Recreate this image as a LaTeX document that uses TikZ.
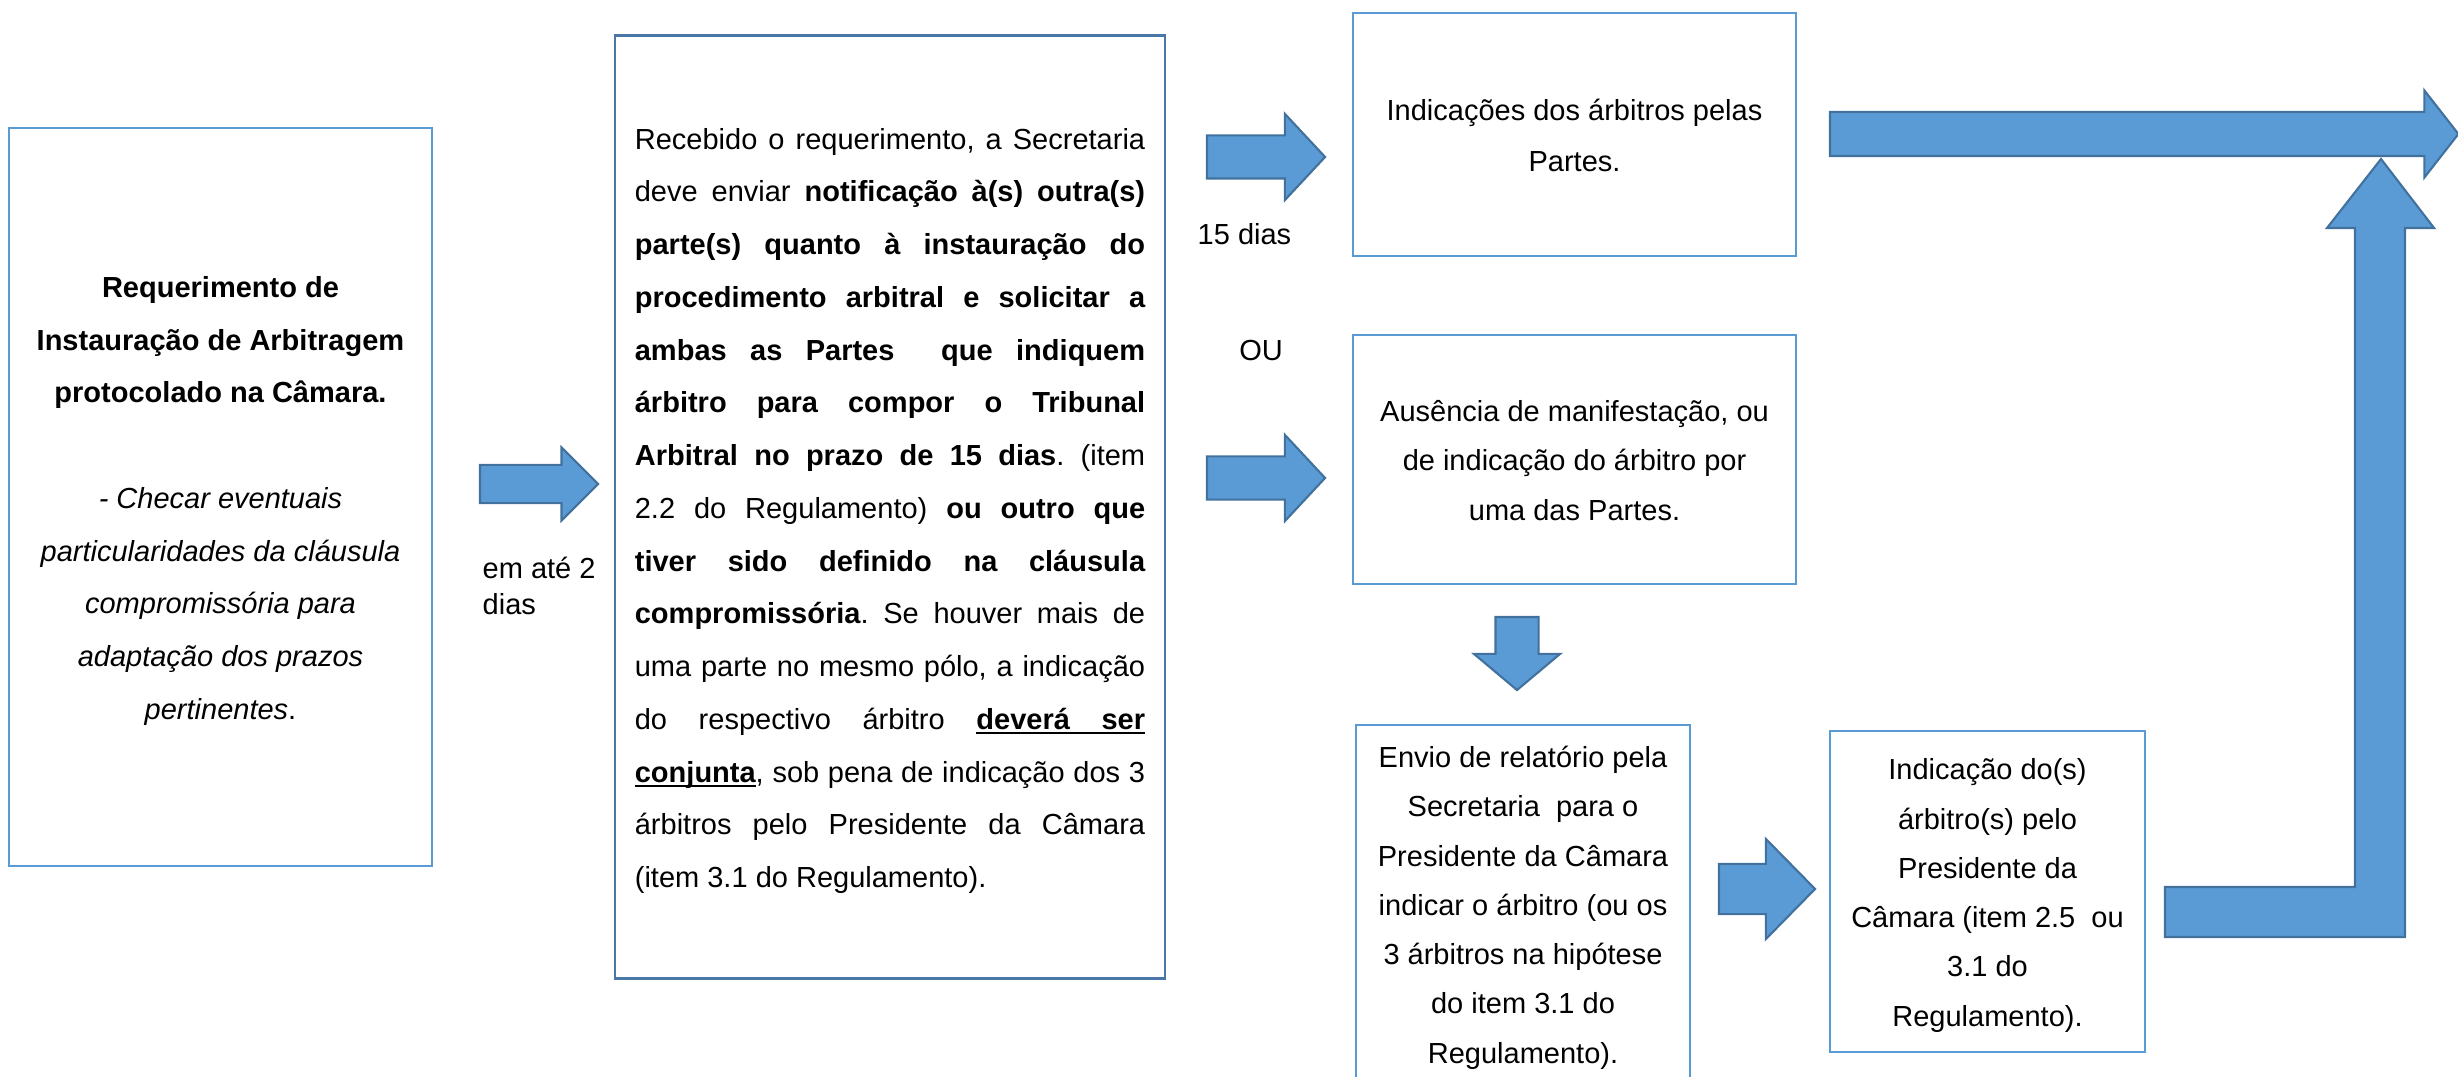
\documentclass[tikz,border=0pt]{standalone}
\usepackage{fontspec}
\setmainfont{Liberation Sans}
\usepackage{tikz}
\usetikzlibrary{shapes.arrows}
\definecolor{boxline}{HTML}{5B9BD5}
\definecolor{boxdark}{HTML}{4A77A8}
\definecolor{arrowfill}{HTML}{5B9BD5}
\definecolor{arrowline}{HTML}{41719C}
% underline that follows the justified spaces
\newsavebox{\ulsave}
\newcommand{\ulword}[1]{\sbox{\ulsave}{#1}\rlap{\vrule height -0.8pt depth 1.4pt width \wd\ulsave}\usebox{\ulsave}}
\newcommand{\ulspace}{\leaders\vrule height -0.8pt depth 1.4pt\hskip\fontdimen2\font plus\fontdimen3\font minus\fontdimen4\font}
% struts to seat the text a bit lower in its box
\newcommand{\topstrut}{\rule{0pt}{9.1pt}}
\newcommand{\botstrut}{\rule[-2.6pt]{0pt}{0pt}}
\frenchspacing

\begin{document}
\begin{tikzpicture}[x=0.01cm,y=-0.01cm,
box/.style={draw=boxline,line width=0.7pt,inner sep=0,align=center,
  font=\fontsize{8.25}{14}\selectfont},
blockarrow/.style={fill=arrowfill,draw=arrowline,line width=0.6pt},
harrow/.style={blockarrow,single arrow,inner xsep=0,outer sep=0,anchor=tail},
lbl/.style={inner sep=0,font=\fontsize{8.25}{10}\selectfont}]
\useasboundingbox (0,0) rectangle (2458,1077);
\clip (0,0) rectangle (2458,1077);
% boxes
\node[box,minimum width=4.23cm,minimum height=7.38cm,
  font=\fontsize{8.25}{15}\selectfont] (req) at (220.5,497)
  {\topstrut\textbf{Requerimento de}\\\textbf{Instauração de Arbitragem}\\
   \textbf{protocolado na Câmara.}\\[15pt]
   \textit{- Checar eventuais}\\\textit{particularidades da cláusula}\\
   \textit{compromissória para}\\\textit{adaptação dos prazos}\\
   \textit{pertinentes}.\botstrut};
\node[box,draw=boxdark,minimum width=5.5cm,minimum height=9.42cm,
  text width=5.1cm,align=justify,font=\fontsize{8.25}{15}\selectfont] (sec) at (890,507)
  {\topstrut Recebido o requerimento, a Secretaria\linebreak
  deve enviar {\bfseries notificação à(s) outra(s)\linebreak
  parte(s) quanto à instauração do\linebreak
  procedimento arbitral e solicitar a\linebreak
  ambas as Partes\ \ que indiquem\linebreak
  árbitro para compor o Tribunal\linebreak
  Arbitral no prazo de 15 dias}. (item\linebreak
  2.2 do Regulamento) {\bfseries ou outro que\linebreak
  tiver sido definido na cláusula\linebreak
  compromissória}. Se houver mais de\linebreak
  uma parte no mesmo pólo, a indicação\linebreak
  do respectivo árbitro {\bfseries\ulword{deverá}\ulspace\ulword{ser}}\linebreak
  {\bfseries\ulword{conjunta}}, sob pena de indicação dos 3\linebreak
  árbitros pelo Presidente da Câmara\linebreak
  (item 3.1 do Regulamento).\botstrut};
\node[box,minimum width=4.43cm,minimum height=2.43cm,
  font=\fontsize{8.25}{14.4}\selectfont] (ind) at (1574.5,134.5)
  {\topstrut Indicações dos árbitros pelas\\Partes.\botstrut};
\node[box,minimum width=4.43cm,minimum height=2.49cm] (aus) at (1574.5,459.5)
  {\topstrut Ausência de manifestação, ou\\de indicação do árbitro por\\uma das Partes.\botstrut};
\node[box,minimum width=3.34cm,minimum height=3.58cm] (env) at (1523,904)
  {\topstrut Envio de relatório pela\\Secretaria\ \ para o\\Presidente da Câmara\\
   indicar o árbitro (ou os\\3 árbitros na hipótese\\do item 3.1 do\\Regulamento).\botstrut};
\node[box,minimum width=3.15cm,minimum height=3.21cm] (pres) at (1987.5,891.5)
  {\topstrut Indicação do(s)\\árbitro(s) pelo\\Presidente da\\Câmara (item 2.5\ \ ou\\3.1 do\\Regulamento).\botstrut};
% prazos
\node[lbl,anchor=west,align=left] (prazo2) at (482,586) {em até 2\\dias};
\node[lbl,anchor=base west] (prazo15) at (1197,245) {15 dias};
\node[lbl,anchor=base] (ou) at (1261,361) {OU};
% block arrows
\node[harrow,inner ysep=0.18cm,minimum height=1.18cm,minimum width=0.71cm,
  single arrow head extend=0.175cm,single arrow tip angle=90] (arrA) at (480,484) {};
\node[harrow,inner ysep=0.205cm,minimum height=1.18cm,minimum width=0.84cm,
  single arrow head extend=0.215cm,single arrow tip angle=94] (arr15) at (1207,157) {};
\node[harrow,inner ysep=0.205cm,minimum height=1.18cm,minimum width=0.84cm,
  single arrow head extend=0.215cm,single arrow tip angle=94] (arrOU) at (1207,478) {};
\node[harrow,rotate=-90,inner ysep=0.205cm,minimum height=0.73cm,minimum width=0.84cm,
  single arrow head extend=0.215cm,single arrow tip angle=100] (arrDn) at (1517,617) {};
\node[harrow,inner ysep=0.24cm,minimum height=0.96cm,minimum width=0.98cm,
  single arrow head extend=0.25cm,single arrow tip angle=91] (arr56) at (1719,889) {};
\node[harrow,inner ysep=0.21cm,minimum height=6.28cm,minimum width=0.85cm,
  single arrow head extend=0.215cm,single arrow tip angle=104] (arrTop) at (1830,134) {};
% elbow back to the top
\coordinate (elbow) at (2165,887);
\filldraw[blockarrow] (elbow) -- ++(190,0) -- ++(0,-659) -- ++(-28,0) -- ++(54,-69)
  -- ++(53,69) -- ++(-29,0) -- ++(0,709) -- ++(-240,0) -- cycle;
\end{tikzpicture}
\end{document}
